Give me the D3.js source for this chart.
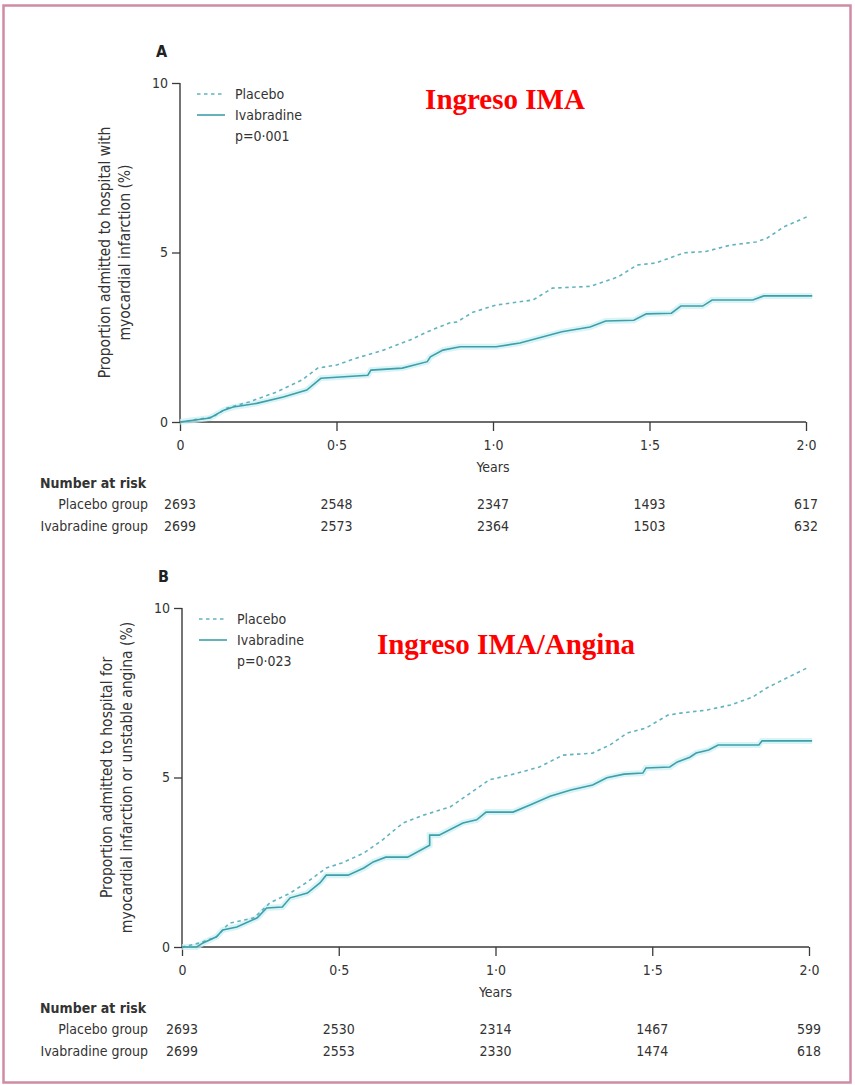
<!DOCTYPE html>
<html>
<head>
<meta charset="utf-8">
<script src="https://cdn.jsdelivr.net/npm/d3@7"></script>
<style>
  html, body { margin: 0; padding: 0; background: #ffffff; }
  svg { display: block; }
  .lab { font-family: "Liberation Sans Narrow", "DejaVu Sans Condensed", "Open Sans", sans-serif; fill: #333; }
</style>
</head>
<body>
<svg id="chart" width="855" height="1085"></svg>
<script>
// ---------- data ----------
const xTickValues = [0, 0.5, 1, 1.5, 2];
const xTickLabels = ["0", "0·5", "1·0", "1·5", "2·0"];
const yTickValues = [0, 5, 10];
const yTickLabels = ["0", "5", "10"];
const seriesNames = ["Placebo", "Ivabradine"];
const riskGroups = ["Placebo group", "Ivabradine group"];

// Panel A: admitted with myocardial infarction (years, %)
const placeboA = [[0,0],[0.064,0.09],[0.105,0.15],[0.15,0.41],[0.22,0.59],[0.31,0.89],[0.39,1.24],[0.44,1.59],[0.50,1.68],[0.565,1.89],[0.65,2.12],[0.735,2.42],[0.79,2.66],[0.86,2.92],[0.885,2.95],[0.936,3.24],[1.01,3.45],[1.128,3.6],[1.19,3.95],[1.31,4.0],[1.40,4.28],[1.46,4.63],[1.52,4.69],[1.61,4.99],[1.68,5.03],[1.76,5.22],[1.84,5.31],[1.875,5.42],[1.93,5.76],[2.01,6.08]];
const ivabradineA = [[0,0],[0.096,0.12],[0.14,0.35],[0.17,0.44],[0.245,0.55],[0.33,0.74],[0.405,0.94],[0.45,1.29],[0.6,1.38],[0.61,1.53],[0.71,1.59],[0.79,1.78],[0.80,1.92],[0.84,2.12],[0.895,2.22],[1.01,2.22],[1.086,2.33],[1.22,2.66],[1.31,2.80],[1.36,2.98],[1.45,3.0],[1.49,3.19],[1.57,3.21],[1.60,3.42],[1.67,3.42],[1.70,3.6],[1.83,3.6],[1.865,3.72],[2.02,3.72]];
const riskPlaceboA = [2693, 2548, 2347, 1493, 617];
const riskIvabradineA = [2699, 2573, 2364, 1503, 632];

// Panel B: admitted for myocardial infarction or unstable angina (years, %)
const placeboB = [[0,0],[0.057,0.12],[0.11,0.3],[0.15,0.7],[0.23,0.86],[0.28,1.3],[0.345,1.59],[0.40,1.92],[0.46,2.33],[0.51,2.48],[0.58,2.77],[0.64,3.16],[0.705,3.66],[0.77,3.89],[0.855,4.13],[0.92,4.54],[0.98,4.93],[1.07,5.13],[1.14,5.31],[1.215,5.66],[1.31,5.72],[1.365,5.96],[1.42,6.31],[1.48,6.46],[1.55,6.84],[1.59,6.9],[1.675,6.99],[1.75,7.14],[1.82,7.37],[1.865,7.64],[1.93,7.94],[2.0,8.26]];
const ivabradineB = [[0,0],[0.047,0],[0.067,0.12],[0.11,0.3],[0.13,0.5],[0.175,0.59],[0.24,0.86],[0.27,1.15],[0.32,1.18],[0.345,1.45],[0.40,1.59],[0.44,1.89],[0.46,2.12],[0.53,2.12],[0.58,2.33],[0.61,2.51],[0.65,2.65],[0.72,2.65],[0.79,3.0],[0.79,3.3],[0.82,3.3],[0.896,3.66],[0.94,3.75],[0.97,3.98],[1.056,3.98],[1.11,4.19],[1.174,4.45],[1.24,4.63],[1.31,4.78],[1.355,4.99],[1.41,5.1],[1.47,5.13],[1.48,5.28],[1.556,5.31],[1.58,5.46],[1.62,5.6],[1.64,5.72],[1.68,5.81],[1.71,5.96],[1.84,5.96],[1.85,6.08],[2.01,6.08]];
const riskPlaceboB = [2693, 2530, 2314, 1467, 599];
const riskIvabradineB = [2699, 2553, 2330, 1474, 618];

// ---------- drawing ----------
const svg = d3.select("#chart");
const FONT = '"Liberation Sans Narrow", "DejaVu Sans Condensed", "Open Sans", sans-serif';
const AXIS = "#3a3a3a";
const SOLID = "#3e9fa9";
const DASH = "#62b3bf";

// frame
svg.append("rect").attr("x", 3.5).attr("y", 5.5).attr("width", 847).attr("height", 1077)
  .attr("fill", "none").attr("stroke", "#cf8aa5").attr("stroke-width", 2.5);

const panels = [
  { letter: "A", x0: 180, x1: 806, yTop: 83, yBot: 422,
    placebo: placeboA, ivab: ivabradineA, pval: "p=0·001",
    ylab: ["Proportion admitted to hospital with", "myocardial infarction (%)"],
    title: "Ingreso IMA", titleX: 505, titleY: 109,
    riskP: riskPlaceboA, riskI: riskIvabradineA },
  { letter: "B", x0: 182, x1: 809, yTop: 608, yBot: 947,
    placebo: placeboB, ivab: ivabradineB, pval: "p=0·023",
    ylab: ["Proportion admitted to hospital for", "myocardial infarction or unstable angina (%)"],
    title: "Ingreso IMA/Angina", titleX: 506, titleY: 654,
    riskP: riskPlaceboB, riskI: riskIvabradineB }
];

panels.forEach(p => {
  const g = svg.append("g");
  const x = d3.scaleLinear().domain([0, 2]).range([p.x0, p.x1]);
  const y = d3.scaleLinear().domain([0, 10]).range([p.yBot, p.yTop]);

  // panel letter
  g.append("text").attr("x", p.x0 - 24).attr("y", p.yTop - 26)
    .attr("font-family", FONT).attr("font-weight", "bold").attr("font-size", 16)
    .attr("fill", "#222").text(p.letter);

  // axes
  const yAxis = d3.axisLeft(y).tickValues(yTickValues)
    .tickFormat((d, i) => yTickLabels[i]).tickSize(8).tickPadding(4);
  const gy = g.append("g").attr("transform", `translate(${p.x0},0)`).call(yAxis);
  const xAxis = d3.axisBottom(x).tickValues(xTickValues)
    .tickFormat((d, i) => xTickLabels[i]).tickSize(9).tickPadding(6);
  const gx = g.append("g").attr("transform", `translate(0,${p.yBot})`).call(xAxis);
  [gx, gy].forEach(a => {
    a.select(".domain").attr("stroke", AXIS).attr("stroke-width", 1.4);
    a.selectAll(".tick line").attr("stroke", AXIS).attr("stroke-width", 1.3);
    a.selectAll(".tick text").attr("font-family", FONT).attr("font-size", 14).attr("fill", "#333");
  });
  gx.select(".domain").attr("d", `M${p.x0},0H${p.x1}`);
  gy.select(".domain").attr("d", `M0,${p.yBot}V${p.yTop}`);
  gx.selectAll(".tick text").attr("dy", "0.9em");

  // y axis title
  const yc = (p.yTop + p.yBot) / 2;
  p.ylab.forEach((t, i) => {
    g.append("text").attr("class", "lab")
      .attr("transform", `translate(${p.x0 - 70 + i * 20},${yc}) rotate(-90)`)
      .attr("text-anchor", "middle").attr("font-size", 15.5).text(t);
  });

  // x axis title
  g.append("text").attr("class", "lab").attr("x", x(1)).attr("y", p.yBot + 50)
    .attr("text-anchor", "middle").attr("font-size", 14).text("Years");

  // curves
  const line = d3.line().x(d => x(d[0])).y(d => y(d[1]));
  g.append("path").datum(p.ivab).attr("d", line).attr("fill", "none")
    .attr("stroke", "#c9eff3").attr("stroke-width", 6).attr("stroke-opacity", 0.7);
  g.append("path").datum(p.placebo).attr("d", line).attr("fill", "none")
    .attr("stroke", DASH).attr("stroke-width", 1.6).attr("stroke-dasharray", "3.5,3.5");
  g.append("path").datum(p.ivab).attr("d", line).attr("fill", "none")
    .attr("stroke", SOLID).attr("stroke-width", 1.6);

  // legend
  const lx = p.x0 + 17, ly = p.yTop + 11;
  g.append("line").attr("x1", lx).attr("x2", lx + 28).attr("y1", ly).attr("y2", ly)
    .attr("stroke", DASH).attr("stroke-width", 1.6).attr("stroke-dasharray", "3.5,3.5");
  g.append("line").attr("x1", lx).attr("x2", lx + 28).attr("y1", ly + 21).attr("y2", ly + 21)
    .attr("stroke", SOLID).attr("stroke-width", 1.6);
  seriesNames.forEach((s, i) => {
    g.append("text").attr("class", "lab").attr("x", lx + 38).attr("y", ly + i * 21 + 5)
      .attr("font-size", 14).text(s);
  });
  g.append("text").attr("class", "lab").attr("x", lx + 38).attr("y", ly + 2 * 21 + 5)
    .attr("font-size", 14).text(p.pval);

  // red title
  g.append("text").attr("x", p.titleX).attr("y", p.titleY).attr("text-anchor", "middle")
    .attr("font-family", '"Liberation Serif", "Times New Roman", serif')
    .attr("font-weight", "bold").attr("font-size", 29).attr("fill", "#ff0000").text(p.title);

  // number at risk
  const r0 = p.yBot + 66;
  g.append("text").attr("class", "lab").attr("x", 40).attr("y", r0)
    .attr("font-size", 14).attr("font-weight", "bold").attr("fill", "#222").text("Number at risk");
  [p.riskP, p.riskI].forEach((arr, gi) => {
    const yy = r0 + 21 + gi * 22;
    g.append("text").attr("class", "lab").attr("x", 148).attr("y", yy)
      .attr("text-anchor", "end").attr("font-size", 14).text(riskGroups[gi]);
    g.selectAll(null).data(arr).enter().append("text").attr("class", "lab")
      .attr("x", (d, i) => x(xTickValues[i])).attr("y", yy)
      .attr("text-anchor", "middle").attr("font-size", 14).text(d => d);
  });
});
</script>
</body>
</html>
